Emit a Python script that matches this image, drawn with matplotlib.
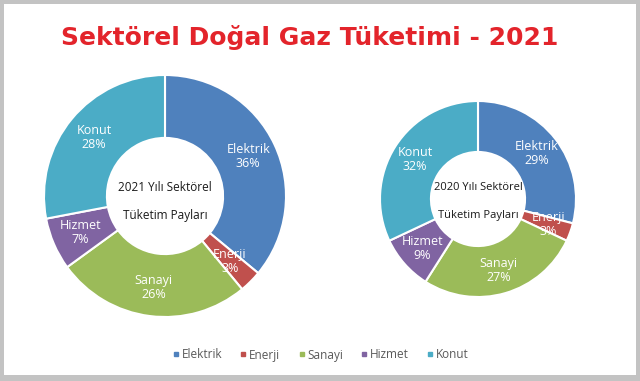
import matplotlib
matplotlib.use("Agg")
import matplotlib.pyplot as plt
from matplotlib.patches import Rectangle
from matplotlib.lines import Line2D

categories = ["Elektrik", "Enerji", "Sanayi", "Hizmet", "Konut"]
values_2021 = [36, 3, 26, 7, 28]
values_2020 = [29, 3, 27, 9, 32]
colors = ["#4F81BD", "#C0504D", "#9BBB59", "#8064A2", "#4BACC6"]
title = "Sektörel Doğal Gaz Tüketimi - 2021"
center_2021 = ["2021 Yılı Sektörel", "Tüketim Payları"]
center_2020 = ["2020 Yılı Sektörel", "Tüketim Payları"]

plt.rcParams['font.family'] = ['Open Sans', 'DejaVu Sans']

W, H = 640, 381
fig = plt.figure(figsize=(W / 100, H / 100), dpi=100)
fig.patch.set_facecolor("#C3C3C3")
fig.add_artist(Rectangle((4 / W, 6 / H), (W - 8) / W, (H - 10) / H,
                         transform=fig.transFigure, facecolor="white",
                         edgecolor="none", zorder=0))


def donut(cx, cy, r, vals, ctext, fs, cfs, y1, y2):
    ax = fig.add_axes([(cx - r) / W, (H - cy - r) / H, 2 * r / W, 2 * r / H])
    labels = [f"{c}\n{v}%" for c, v in zip(categories, vals)]
    wedges, texts = ax.pie(vals, colors=colors, startangle=90, counterclock=False,
                           radius=1, labels=labels, labeldistance=0.76,
                           wedgeprops=dict(width=0.52, edgecolor="white", linewidth=1.5),
                           textprops=dict(color="white", fontsize=fs, ha="center",
                                          va="center", linespacing=1.1))
    for t in texts:
        t.set_ha("center")
    ax.text(0, y1, ctext[0], ha="center", va="center", fontsize=cfs, color="#1a1a1a")
    ax.text(0, y2, ctext[1], ha="center", va="center", fontsize=cfs, color="#1a1a1a")
    ax.set_xlim(-1, 1)
    ax.set_ylim(-1, 1)
    ax.set_aspect("equal")
    ax.axis("off")


donut(165, 196, 121, values_2021, center_2021, 9, 8.5, 0.07, -0.165)
donut(478, 199, 98, values_2020, center_2020, 9, 8, 0.12, -0.17)

fig.text(310 / W, (H - 38) / H, title, ha="center", va="center", fontsize=18,
         fontweight="heavy", color="#E3242B", family=["DejaVu Sans"])

handles = [Line2D([], [], marker="s", linestyle="none", markersize=3.5,
                  markerfacecolor=c, markeredgecolor=c) for c in colors]
fig.legend(handles, categories, loc="center", bbox_to_anchor=(0.5, (H - 355) / H),
           ncol=5, frameon=False, fontsize=8.5, labelcolor="#595959",
           handletextpad=0.1, columnspacing=1.4, handlelength=0.8)

fig.savefig("out.png", dpi=100, facecolor=fig.get_facecolor())
